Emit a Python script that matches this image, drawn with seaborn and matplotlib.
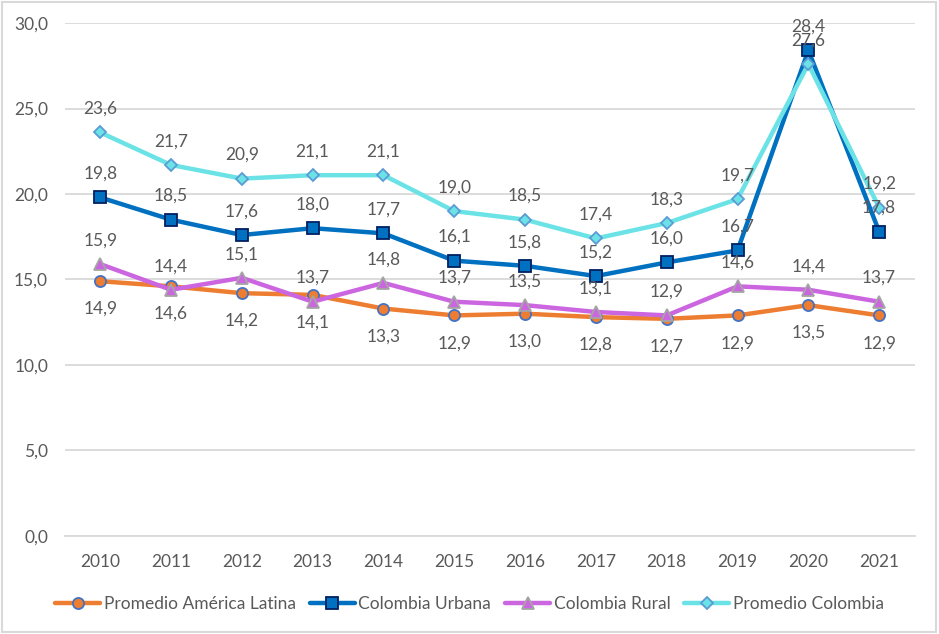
import matplotlib
matplotlib.use('Agg')
import matplotlib.pyplot as plt
import seaborn as sns
import pandas as pd
from matplotlib.patches import Rectangle

years = ["2010", "2011", "2012", "2013", "2014", "2015", "2016", "2017", "2018", "2019", "2020", "2021"]
latam = [14.9, 14.6, 14.2, 14.1, 13.3, 12.9, 13.0, 12.8, 12.7, 12.9, 13.5, 12.9]
urbana = [19.8, 18.5, 17.6, 18.0, 17.7, 16.1, 15.8, 15.2, 16.0, 16.7, 28.4, 17.8]
rural = [15.9, 14.4, 15.1, 13.7, 14.8, 13.7, 13.5, 13.1, 12.9, 14.6, 14.4, 13.7]
colombia = [23.6, 21.7, 20.9, 21.1, 21.1, 19.0, 18.5, 17.4, 18.3, 19.7, 27.6, 19.2]

series = [
    # name, values, line color, marker, face, edge, label offset (points)
    ("Promedio América Latina", latam, "#ED7D31", "o", "#ED7D31", "#4472C4", -20),
    ("Colombia Urbana", urbana, "#0070C0", "s", "#0070C0", "#002060", 17),
    ("Colombia Rural", rural, "#CC66E0", "^", "#CC66E0", "#A5A5A5", 17),
    ("Promedio Colombia", colombia, "#6BE3E6", "D", "#6BE3E6", "#5B9BD5", 17),
]

sns.set_style("white")
plt.rcParams['font.family'] = ['Lato', 'DejaVu Sans']
text_color = "#595959"
fsize = 12.5

fig = plt.figure(figsize=(9.39, 6.34), dpi=100)
ax = fig.add_axes([0.069, 0.1546, 0.905, 0.8091])

x = list(range(len(years)))
for i, (name, vals, color, marker, face, edge, off) in enumerate(series):
    df = pd.DataFrame({"x": x, "y": vals})
    msize = 6.5 if marker == "D" else 8
    sns.lineplot(data=df, x="x", y="y", ax=ax, color=color, linewidth=3.2,
                 marker=marker, markersize=msize, markerfacecolor=face,
                 markeredgecolor=edge, markeredgewidth=1.3, label=name,
                 zorder=3 + i)
    for xi, v in zip(x, vals):
        ax.annotate(f"{v:.1f}".replace(".", ","), (xi, v), xytext=(0, off),
                    textcoords="offset points", ha="center", va="center",
                    fontsize=fsize, color=text_color, zorder=10)

ax.set_xlim(-0.5, len(years) - 0.5)
ax.set_ylim(0, 30)
ax.set_yticks([0, 5, 10, 15, 20, 25, 30])
ax.set_yticklabels([f"{t:.1f}".replace(".", ",") for t in [0, 5, 10, 15, 20, 25, 30]])
ax.set_xticks(x)
ax.set_xticklabels(years)
ax.tick_params(axis="both", length=0, labelsize=fsize, labelcolor=text_color)
ax.tick_params(axis="x", pad=13)
ax.tick_params(axis="y", pad=12)
ax.set_xlabel("")
ax.set_ylabel("")
ax.grid(axis="y", color="#D9D9D9", linewidth=1.3)
ax.set_axisbelow(True)
for s in ["top", "right", "left"]:
    ax.spines[s].set_visible(False)
ax.spines["bottom"].set_color("#D9D9D9")
ax.spines["bottom"].set_linewidth(1.3)

ax.legend(loc="center", bbox_to_anchor=(0.5, 0.047), bbox_transform=fig.transFigure,
          ncol=4, frameon=False, fontsize=fsize, labelcolor=text_color,
          handlelength=2.6, handletextpad=0.2, columnspacing=0.8)

fig.patches.append(Rectangle((0.002, 0.003), 0.995, 0.994, transform=fig.transFigure,
                             fill=False, edgecolor="#D9D9D9", linewidth=1.5))

fig.savefig("out.png", dpi=100, facecolor="white")
